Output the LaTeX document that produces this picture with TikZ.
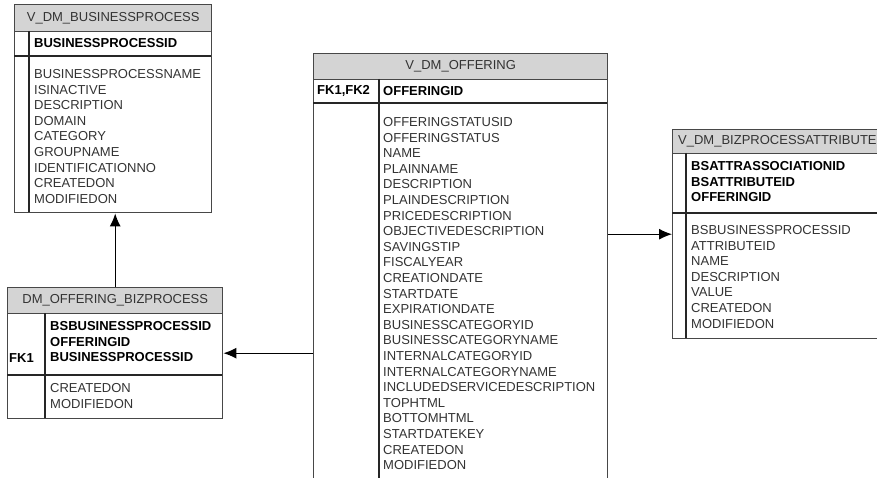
\documentclass[tikz,border=0pt]{standalone}
\usepackage{fontspec}
\setmainfont{Liberation Sans}
\usetikzlibrary{arrows.meta}
\definecolor{hdrgray}{HTML}{D4D4D4}
\definecolor{framegray}{HTML}{474747}
\definecolor{txtgray}{HTML}{333333}
\tikzset{
  tbl/.style={draw=framegray, line width=1.4pt, inner sep=0pt, anchor=north west},
  hdr/.style={tbl, fill=hdrgray, text=txtgray, font=\fontsize{13}{15.6}\selectfont},
  sep/.style={draw=black!85, line width=1.1pt},
  keys/.style={font=\bfseries\fontsize{13}{15.6}\selectfont, text=black, align=left, inner sep=0pt, anchor=north west},
  fields/.style={font=\fontsize{13}{15.6}\selectfont, text=txtgray, align=left, inner sep=0pt, anchor=north west},
  link/.style={-{Latex[length=13pt,width=11pt]}, line width=1.1pt}
}
\begin{document}
\begin{tikzpicture}[x=1pt, y=-1pt]
  \useasboundingbox (0,0) rectangle (877,478);
  \clip (0,0) rectangle (877,478);

  % V_DM_BUSINESSPROCESS
  \node (bp) [tbl, minimum width=197pt, minimum height=208pt] at (14,4) {};
  \node (bphead) [hdr, minimum width=197pt, minimum height=27pt] at (14,4) {V\_DM\_BUSINESSPROCESS};
  \draw[sep] (14,56) -- (211,56);
  \draw[sep] (29,31) -- (29,212);
  \node (bpkey) [keys, anchor=west] at (34,43.5) {BUSINESSPROCESSID};
  \node (bpfields) [fields] at (34,69.3) {BUSINESSPROCESSNAME\\ISINACTIVE\\DESCRIPTION\\DOMAIN\\CATEGORY\\GROUPNAME\\IDENTIFICATIONNO\\CREATEDON\\MODIFIEDON};

  % DM_OFFERING_BIZPROCESS
  \node (obp) [tbl, minimum width=215pt, minimum height=131pt] at (7,287) {};
  \node (obphead) [hdr, minimum width=215pt, minimum height=26pt] at (7,287) {DM\_OFFERING\_BIZPROCESS};
  \draw[sep] (7,375) -- (222,375);
  \draw[sep] (45,313) -- (45,418);
  \node (obpfk) [keys, anchor=west] at (9,358) {FK1};
  \node (obpkeys) [keys] at (50,321.3) {BSBUSINESSPROCESSID\\OFFERINGID\\BUSINESSPROCESSID};
  \node (obpfields) [fields] at (50,383.3) {CREATEDON\\MODIFIEDON};

  % V_DM_OFFERING
  \node (off) [tbl, minimum width=294pt, minimum height=460pt] at (313,53) {};
  \node (offhead) [hdr, minimum width=294pt, minimum height=26pt] at (313,53) {V\_DM\_OFFERING};
  \draw[sep] (313,103) -- (607,103);
  \draw[sep] (379,79) -- (379,513);
  \node (offfk) [keys, anchor=west] at (317,91) {FK1,FK2};
  \node (offkey) [keys, anchor=west] at (383,91) {OFFERINGID};
  \node (offfields) [fields] at (383,117.3) {OFFERINGSTATUSID\\OFFERINGSTATUS\\NAME\\PLAINNAME\\DESCRIPTION\\PLAINDESCRIPTION\\PRICEDESCRIPTION\\OBJECTIVEDESCRIPTION\\SAVINGSTIP\\FISCALYEAR\\CREATIONDATE\\STARTDATE\\EXPIRATIONDATE\\BUSINESSCATEGORYID\\BUSINESSCATEGORYNAME\\INTERNALCATEGORYID\\INTERNALCATEGORYNAME\\INCLUDEDSERVICEDESCRIPTION\\TOPHTML\\BOTTOMHTML\\STARTDATEKEY\\CREATEDON\\MODIFIEDON};

  % V_DM_BIZPROCESSATTRIBUTE
  \node (attr) [tbl, minimum width=240pt, minimum height=209pt] at (672,129) {};
  \node (attrhead) [hdr, minimum width=240pt, minimum height=24pt] at (672,129) {};
  \node (attrtitle) [text=txtgray, font=\fontsize{13}{15.6}\selectfont, inner sep=0pt, anchor=west] at (678,141) {V\_DM\_BIZPROCESSATTRIBUTE};
  \draw[sep] (672,213) -- (912,213);
  \draw[sep] (686,153) -- (686,338);
  \node (attrkeys) [keys] at (691,161.3) {BSATTRASSOCIATIONID\\BSATTRIBUTEID\\OFFERINGID};
  \node (attrfields) [fields] at (691,225.3) {BSBUSINESSPROCESSID\\ATTRIBUTEID\\NAME\\DESCRIPTION\\VALUE\\CREATEDON\\MODIFIEDON};

  \draw[link] (obp.north) -- (obp.north |- bp.south);
  \draw[link] (off.west |- obp.east) -- (obp.east);
  \draw[link] (off.east |- attr.west) -- (attr.west);
\end{tikzpicture}
\end{document}
